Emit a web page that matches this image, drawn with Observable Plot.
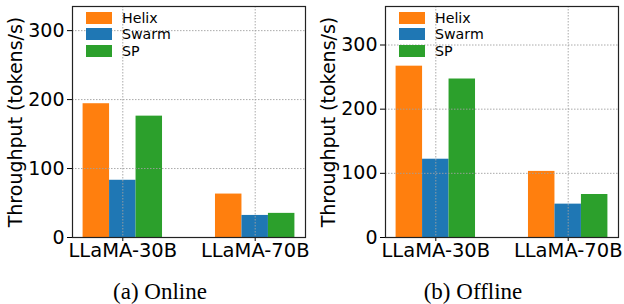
<!DOCTYPE html>
<html>
<head>
<meta charset="utf-8">
<script src="https://cdn.jsdelivr.net/npm/d3@7"></script>
<script src="https://cdn.jsdelivr.net/npm/@observablehq/plot@0.6"></script>
<style>
  html, body { margin: 0; padding: 0; background: #fff; }
  #wrap { position: relative; width: 624px; height: 304px; font-family: "DejaVu Sans", sans-serif; }
  .panel { position: absolute; top: 0; width: 312px; }
  .legend { position: absolute; font-size: 14.2px; color: #000; }
  .legend .row { position: absolute; left: 0; height: 15px; white-space: nowrap; }
  .legend .sw { position: absolute; left: 0; top: 1px; width: 26px; height: 12px; }
  .legend .lb { position: absolute; left: 36px; top: 0px; line-height: 14px; }
  .caption { position: absolute; font-family: "Liberation Serif", "Times New Roman", serif; font-size: 23px; width: 200px; text-align: center; top: 279px; line-height: 25px; }
  svg text { font-family: "DejaVu Sans", sans-serif; }
</style>
</head>
<body>
<div id="wrap"></div>
<script>
const models = ["LLaMA-30B", "LLaMA-70B"];
const systems = ["Helix", "Swarm", "SP"];
const colors = ["#ff7f0e", "#1f77b4", "#2ca02c"];
const onlineHelix = [194, 63];
const onlineSwarm = [83, 32];
const onlineSP = [176, 35];
const offlineHelix = [267, 103];
const offlineSwarm = [122, 52];
const offlineSP = [247, 67];
const yTicks = [0, 100, 200, 300];
const captions = ["(a) Online", "(b) Offline"];

const barWidth = 0.2;
function rows(series) {
  const out = [];
  series.forEach((vals, s) => {
    vals.forEach((v, m) => {
      const c = m + (s - 1) * barWidth;
      out.push({model: models[m], system: systems[s], value: v, x1: c - barWidth / 2, x2: c + barWidth / 2});
    });
  });
  return out;
}

function panel(series, ymax, left, caption) {
  const data = rows(series);
  const chart = Plot.plot({
    width: 312,
    height: 262,
    marginLeft: 72,
    marginRight: 7,
    marginTop: 6,
    marginBottom: 25,
    style: {fontFamily: "DejaVu Sans", fontSize: "19px", color: "#000", background: "transparent"},
    x: {domain: [-0.38, 1.38], ticks: [0, 1], tickFormat: (d) => models[d]},
    y: {domain: [0, ymax], ticks: yTicks},
    color: {domain: systems, range: colors},
    marks: [
      Plot.rectY(data, {x1: "x1", x2: "x2", y1: 0, y2: "value", fill: "system"}),
      Plot.gridY(yTicks, {stroke: "#a0a0a0", strokeOpacity: 1, strokeDasharray: "1.5,1.5", strokeWidth: 0.9}),
      Plot.gridX([0, 1], {stroke: "#a0a0a0", strokeOpacity: 1, strokeDasharray: "1.5,1.5", strokeWidth: 0.9}),
      Plot.axisY(yTicks, {tickSize: 5, tickPadding: 3, fontSize: 19, label: "Throughput (tokens/s)", labelAnchor: "center", labelArrow: "none", labelOffset: 64}),
      Plot.axisX([0, 1], {tickSize: 4, tickPadding: 2, fontSize: 19.5, tickFormat: (d) => models[d], label: null}),
      Plot.frame({stroke: "#222", strokeWidth: 1.2})
    ]
  });
  const div = document.createElement("div");
  div.className = "panel";
  div.style.left = left + "px";
  div.appendChild(chart);
  const leg = document.createElement("div");
  leg.className = "legend";
  leg.style.left = "86px";
  leg.style.top = "11px";
  systems.forEach((s, i) => {
    const r = document.createElement("div");
    r.className = "row";
    r.style.top = (i * 16.4) + "px";
    r.innerHTML = `<div class="sw" style="background:${colors[i]}"></div><div class="lb">${s}</div>`;
    leg.appendChild(r);
  });
  div.appendChild(leg);
  document.getElementById("wrap").appendChild(div);
  const cap = document.createElement("div");
  cap.className = "caption";
  cap.textContent = caption;
  cap.style.left = (left + 160 - 100) + "px";
  document.getElementById("wrap").appendChild(cap);
}

panel([onlineHelix, onlineSwarm, onlineSP], 335, 0, captions[0]);
panel([offlineHelix, offlineSwarm, offlineSP], 360, 313, captions[1]);
</script>
</body>
</html>
